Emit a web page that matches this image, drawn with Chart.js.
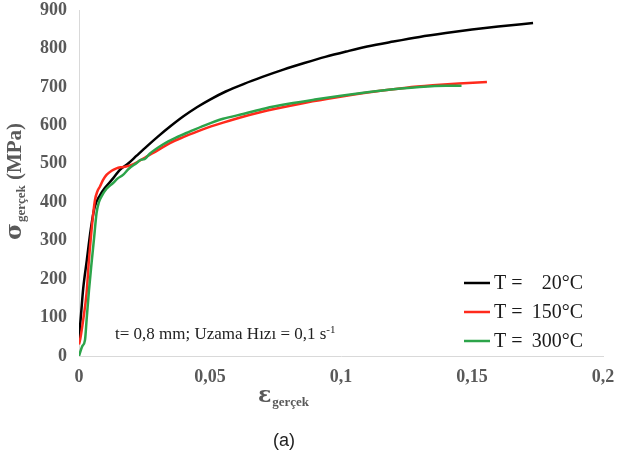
<!DOCTYPE html>
<html>
<head>
<meta charset="utf-8">
<script src="https://cdn.jsdelivr.net/npm/chart.js@4.4.0/dist/chart.umd.min.js"></script>
<style>
  html, body { margin: 0; padding: 0; background: #fff; }
  #wrap { width: 617px; height: 457px; position: relative; }
</style>
</head>
<body>
<div id="wrap"><canvas id="myChart" width="617" height="457"></canvas></div>
<script>
// T = 20°C
const eps20 = [0, 0.0008, 0.0016, 0.003, 0.0045, 0.006, 0.008, 0.010, 0.013, 0.0156, 0.019, 0.022, 0.026, 0.03, 0.035, 0.04, 0.045, 0.05, 0.056, 0.063, 0.07, 0.078, 0.086, 0.094, 0.102, 0.11, 0.12, 0.13, 0.14, 0.15, 0.16, 0.1733]
const sig20 = [45, 110, 175, 250, 330, 388, 418, 438, 462, 484, 502, 521, 546, 570, 598, 624, 647, 667, 688, 708, 726, 745, 762, 778, 792, 805, 818, 830, 840, 849, 857, 866]

// T = 150°C
const eps150 = [0, 0.0005, 0.0016, 0.0029, 0.0038, 0.0048, 0.0055, 0.0061, 0.007, 0.008, 0.0092, 0.0105, 0.0123, 0.0143, 0.016, 0.018, 0.021, 0.0258, 0.03, 0.0347, 0.04, 0.047, 0.055, 0.065, 0.075, 0.085, 0.095, 0.105, 0.115, 0.125, 0.135, 0.145, 0.1557]
const sig150 = [30, 45, 94, 164, 250, 328, 375, 406, 428, 441, 458, 471, 481, 488, 491, 493, 500, 519, 535, 554, 570, 589, 607, 627, 643, 657, 669, 680, 690, 698, 704, 709, 713]

// T = 300°C
const eps300 = [0, 0.0012, 0.0023, 0.0029, 0.0038, 0.0048, 0.0058, 0.0067, 0.0076, 0.0086, 0.0105, 0.013, 0.0148, 0.0168, 0.019, 0.022, 0.0235, 0.025, 0.027, 0.032, 0.037, 0.042, 0.048, 0.055, 0.063, 0.071, 0.08, 0.09, 0.1, 0.11, 0.12, 0.13, 0.14, 0.146]
const sig300 = [0, 25, 42, 94, 170, 242, 310, 372, 400, 415, 435, 450, 462, 471, 487, 502, 510, 512, 526, 550, 568, 583, 600, 617, 630, 644, 656, 667, 677, 686, 694, 700, 703, 703]

const seriesLabels = ['20', '150', '300']
const xTickLabels = ['0', '0,05', '0,1', '0,15', '0,2']

function pts(xs, ys) {
    return xs.map((x, i) => ({ x: x, y: ys[i] }))
}

const gray = '#595959'
const tickFont = { family: 'Liberation Serif', size: 18, weight: 'bold' }

// titles, legend and the test note are drawn here
const extras = {
    id: 'extras',
    afterDraw(chart) {
        const c = chart.ctx
        c.save()

        // y axis title, rotated
        c.translate(21, 182)
        c.rotate(-Math.PI / 2)
        c.fillStyle = gray
        c.textBaseline = 'alphabetic'
        c.font = 'bold 23px "DejaVu Serif"'
        const w1 = c.measureText('σ').width
        c.font = 'bold 13px "Liberation Serif"'
        const w2 = c.measureText('gerçek').width
        c.font = 'bold 21px "Liberation Serif"'
        const w3 = c.measureText(' (MPa)').width
        let x0 = -(w1 + w2 + w3) / 2
        c.font = 'bold 23px "DejaVu Serif"'
        c.fillText('σ', x0, 0)
        c.font = 'bold 13px "Liberation Serif"'
        c.fillText('gerçek', x0 + w1 + 1, 4)
        c.font = 'bold 21px "Liberation Serif"'
        c.fillText(' (MPa)', x0 + w1 + w2 + 1, 0)
        c.setTransform(1, 0, 0, 1, 0, 0)

        // x axis title
        c.font = 'bold 22px "DejaVu Serif"'
        const e1 = c.measureText('ε').width
        c.font = 'bold 13px "Liberation Serif"'
        const e2 = c.measureText('gerçek').width
        let ex = 283 - (e1 + e2) / 2
        c.font = 'bold 22px "DejaVu Serif"'
        c.fillText('ε', ex, 402)
        c.font = 'bold 13px "Liberation Serif"'
        c.fillText('gerçek', ex + e1 + 1, 406)

        // panel tag
        c.fillStyle = '#222'
        c.font = '18px "Liberation Sans"'
        c.textAlign = 'center'
        c.fillText('(a)', 284, 446)

        // legend inside the plot
        const ly = [283, 312, 341]
        c.textBaseline = 'middle'
        chart.data.datasets.forEach((ds, i) => {
            c.strokeStyle = ds.borderColor
            c.lineWidth = 2.5
            c.beginPath()
            c.moveTo(464, ly[i])
            c.lineTo(490, ly[i])
            c.stroke()
            c.fillStyle = '#1a1a1a'
            c.font = '20px "Liberation Serif"'
            c.textAlign = 'left'
            c.fillText('T =', 494, ly[i] + 1)
            c.textAlign = 'right'
            c.fillText(seriesLabels[i] + '°C', 583, ly[i] + 1)
        })

        // test conditions
        c.textAlign = 'left'
        c.textBaseline = 'alphabetic'
        c.fillStyle = '#222'
        c.font = '17px "Liberation Serif"'
        const note = 't= 0,8 mm; Uzama Hızı = 0,1 s'
        c.fillText(note, 115, 339)
        const nw = c.measureText(note).width
        c.font = '11px "Liberation Serif"'
        c.fillText('-1', 115 + nw, 333)

        c.restore()
    }
}

const ctx = document.getElementById('myChart').getContext('2d')
new Chart(ctx, {
    type: 'line',
    data: {
        datasets: [{
            label: 'T = 20°C',
            data: pts(eps20, sig20),
            borderColor: '#000000',
            order: 2
        }, {
            label: 'T = 150°C',
            data: pts(eps150, sig150),
            borderColor: '#ff2a1c',
            order: 1
        }, {
            label: 'T = 300°C',
            data: pts(eps300, sig300),
            borderColor: '#2ca44a',
            order: 0
        }]
    },
    options: {
        responsive: false,
        animation: false,
        elements: {
            point: { radius: 0 },
            line: { borderWidth: 2.5, cubicInterpolationMode: 'monotone', fill: false }
        },
        layout: { padding: { left: 0, right: 14, top: 10, bottom: 0 } },
        plugins: {
            legend: { display: false },
            tooltip: { enabled: false }
        },
        scales: {
            x: {
                type: 'linear',
                min: 0,
                max: 0.2,
                grid: { display: false, drawTicks: false },
                border: { display: true, color: '#d9d9d9', width: 1 },
                ticks: {
                    stepSize: 0.05,
                    padding: 11,
                    color: gray,
                    font: tickFont,
                    maxRotation: 0,
                    callback: (v, i) => xTickLabels[i]
                },
                afterFit: (s) => {
                    s.height = 101
                    s.paddingLeft = 0
                    s.paddingRight = 0
                }
            },
            y: {
                min: 0,
                max: 900,
                grid: { display: false, drawTicks: false },
                border: { display: true, color: '#d9d9d9', width: 1 },
                ticks: {
                    stepSize: 100,
                    padding: 12,
                    color: gray,
                    font: tickFont
                },
                afterFit: (s) => {
                    s.width = 79
                    s.paddingTop = 0
                    s.paddingBottom = 0
                }
            }
        }
    },
    plugins: [extras]
})
</script>
</body>
</html>
